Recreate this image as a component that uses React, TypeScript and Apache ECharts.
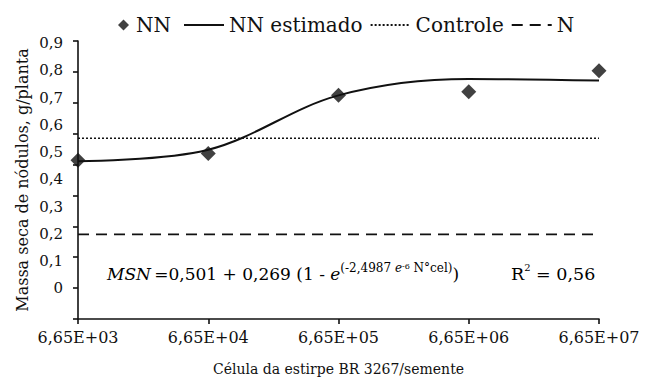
import React, { useEffect, useRef } from "react";
import * as echarts from "echarts";

const categories = ["6,65E+03", "6,65E+04", "6,65E+05", "6,65E+06", "6,65E+07"];
const nnObserved = [0.514, 0.536, 0.724, 0.736, 0.804];
const nnEstimated = [0.511, 0.548, 0.724, 0.777, 0.772];
const controleValues = [0.585, 0.585, 0.585, 0.585, 0.585];
const nValues = [0.274, 0.274, 0.274, 0.274, 0.274];
const yTickValues = [0, 0.1, 0.2, 0.3, 0.4, 0.5, 0.6, 0.7, 0.8, 0.9];

const FONT = "'DejaVu Serif', 'DejaVu Sans', serif";
const INK = "#111";

export default function App() {
  const ref = useRef<HTMLDivElement>(null);
  useEffect(() => {
    if (!ref.current) return;
    const chart = echarts.init(ref.current, undefined, { renderer: "svg" });
    const axisLine = { show: true, lineStyle: { color: INK, width: 1.6 } };
    chart.setOption({
      animation: false,
      backgroundColor: "#fff",
      textStyle: { fontFamily: FONT, color: INK },
      grid: { left: 78, right: 48, top: 41, bottom: 62, containLabel: false },
      legend: [
        {
          data: [{ name: "NN", icon: "diamond" }],
          left: 113,
          top: 10,
          itemWidth: 11,
          itemHeight: 11,
          itemGap: 8,
          textStyle: { fontFamily: FONT, fontSize: 20, color: INK, padding: [0, 0, 0, 2] },
        },
        {
          data: ["NN estimado", "Controle", "N"],
          left: 178,
          top: 10,
          itemWidth: 40,
          itemHeight: 12,
          itemGap: 7,
          itemStyle: { opacity: 0 },
          textStyle: { fontFamily: FONT, fontSize: 20, color: INK },
        },
      ],
      xAxis: {
        type: "category",
        data: categories,
        boundaryGap: false,
        axisLine,
        axisTick: { show: true, length: 5, lineStyle: { color: INK, width: 1.6 } },
        axisLabel: { interval: 0, margin: 10, fontFamily: FONT, fontSize: 16, color: INK },
        splitLine: { show: false },
        name: "Célula da estirpe BR 3267/semente",
        nameLocation: "middle",
        nameGap: 43,
        nameTextStyle: { fontFamily: FONT, fontSize: 14, color: INK },
      },
      yAxis: [
        {
          type: "value",
          min: 0,
          max: 0.9,
          interval: 0.1,
          axisLine,
          axisTick: { show: true, length: 5, lineStyle: { color: INK, width: 1.6 } },
          axisLabel: { show: false },
          splitLine: { show: false },
          name: "Massa seca de nódulos, g/planta",
          nameLocation: "middle",
          nameGap: 48,
          nameTextStyle: { fontFamily: FONT, fontSize: 16, color: INK },
        },
        {
          type: "value",
          position: "left",
          min: -0.1131,
          max: 0.9081,
          axisLine: { show: false },
          axisTick: { show: false },
          splitLine: { show: false },
          axisLabel: {
            customValues: yTickValues,
            margin: 15,
            fontFamily: FONT,
            fontSize: 15,
            color: INK,
            formatter: (v: number) => (v === 0 ? "0" : v.toFixed(1).replace(".", ",")),
          },
        },
      ],
      graphic: [
        {
          type: "text",
          left: 107,
          top: 262,
          style: {
            text:
              "{i|MSN} {n|=0,501 + 0,269 (1 - }{i|e}{sup|(-2,4987 }{supi|e}{sup2|-6}{sup| N°cel)}{n|)}",
            rich: {
              i: { fontFamily: FONT, fontStyle: "italic", fontSize: 17, color: INK, lineHeight: 24 },
              n: { fontFamily: FONT, fontSize: 17, color: INK, lineHeight: 24 },
              sup: { fontFamily: FONT, fontSize: 12, color: INK, verticalAlign: "top", lineHeight: 13 },
              supi: { fontFamily: FONT, fontStyle: "italic", fontSize: 12, color: INK, verticalAlign: "top", lineHeight: 13 },
              sup2: { fontFamily: FONT, fontSize: 8, color: INK, verticalAlign: "top", lineHeight: 9 },
            },
          },
        },
        {
          type: "text",
          left: 511,
          top: 262,
          style: {
            text: "{n|R}{sup|2}{n| = 0,56}",
            rich: {
              n: { fontFamily: FONT, fontSize: 17.5, color: INK, lineHeight: 24 },
              sup: { fontFamily: FONT, fontSize: 10, color: INK, verticalAlign: "top", lineHeight: 12 },
            },
          },
        },
      ],
      series: [
        {
          name: "NN estimado",
          type: "line",
          data: nnEstimated,
          smooth: 0.35,
          symbol: "none",
          lineStyle: { color: INK, width: 2 },
          itemStyle: { color: INK },
          z: 2,
        },
        {
          name: "Controle",
          type: "line",
          data: controleValues,
          symbol: "none",
          lineStyle: { color: INK, width: 1.6, type: [2, 2] },
          itemStyle: { color: INK },
          z: 1,
        },
        {
          name: "N",
          type: "line",
          data: nValues,
          symbol: "none",
          lineStyle: { color: INK, width: 1.6, type: [11, 7] },
          itemStyle: { color: INK },
          z: 1,
        },
        {
          name: "NN",
          type: "scatter",
          data: nnObserved,
          symbol: "diamond",
          symbolSize: 15,
          itemStyle: { color: INK },
          z: 3,
        },
      ],
    });
    return () => chart.dispose();
  }, []);
  return (
    <div
      ref={ref}
      style={{ position: "fixed", left: 0, top: 0, width: 647, height: 381, background: "#fff" }}
    />
  );
}
